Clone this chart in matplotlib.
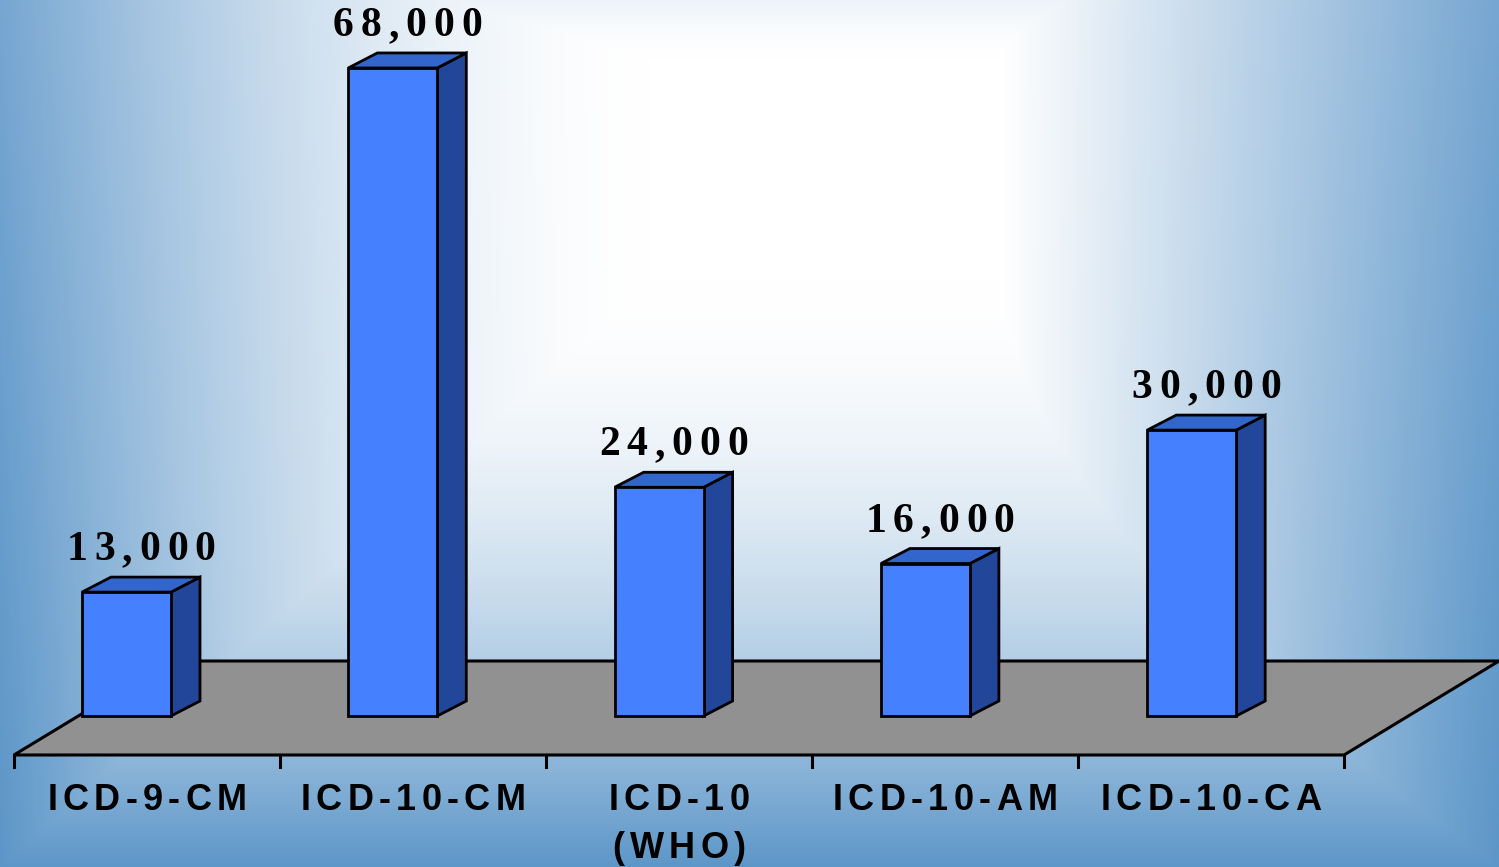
import numpy as np
import matplotlib
matplotlib.use('Agg')
import matplotlib.pyplot as plt
from matplotlib.patches import Polygon
from matplotlib.font_manager import FontProperties
from matplotlib.textpath import TextToPath

# data
categories = ['ICD-9-CM', 'ICD-10-CM', 'ICD-10\n(WHO)', 'ICD-10-AM', 'ICD-10-CA']
codes = [13000, 68000, 24000, 16000, 30000]
value_labels = ['13,000', '68,000', '24,000', '16,000', '30,000']

FRONT = '#4580ff'
TOP = '#3366cc'
SIDE = '#22479a'
FLOOR = '#919191'

BAR_W = 0.334          # category units
DX, DY = 0.109, 1574   # bar depth offset (x units, value units)
FLOOR_FRONT, FLOOR_BACK = -4092, 5771
FLOOR_L, FLOOR_R, FLOOR_DX = -0.4225, 4.572, 0.582

ttp = TextToPath()


def spaced(ax, x, y, s, fp, track, dy_pt=0):
    """draw string char by char with extra tracking (points), centred on x."""
    widths = [ttp.get_text_width_height_descent(c, fp, ismath=False)[0] for c in s]
    total = sum(widths) + track * (len(s) - 1)
    off = -total / 2
    for c, w in zip(s, widths):
        ax.annotate(c, (x, y), xytext=(off, dy_pt), textcoords='offset points',
                    ha='left', va='baseline', fontproperties=fp, color='black', zorder=10)
        off += w + track


def background(ax, xlim, ylim):
    # white plateau in the middle, fading to blue at the edges
    H, W = 867, 1499
    yy, xx = np.mgrid[0:H, 0:W].astype(float)
    x0, x1, y0, y1 = 650.0, 1000.0, 60.0, 280.0
    f_left = (np.maximum(x0 - xx, 0) / x0) ** 1.67
    f_right = np.maximum(xx - x1, 0) / (W - x1)
    f_top = (np.maximum(y0 - yy, 0) / 200.0) ** 1.67
    f_bot = (np.maximum(yy - y1, 0) / (H - y1)) ** 1.67
    t = np.clip(np.maximum.reduce([f_left, f_right, f_top, f_bot]), 0, 1)
    top = np.array([0x76, 0xa6, 0xd1]) / 255
    bot = np.array([0x5c, 0x96, 0xc8]) / 255
    f = (yy / H)[..., None]
    edge = top * (1 - f) + bot * f
    img = (1 - t)[..., None] * np.ones(3) + t[..., None] * edge
    ax.imshow(img, extent=[xlim[0], xlim[1], ylim[0], ylim[1]], origin='upper',
              aspect='auto', zorder=0, interpolation='bilinear')


def main():
    fig = plt.figure(figsize=(14.99, 8.67), dpi=100)
    ax = fig.add_axes([0, 0, 1, 1])
    xlim = (-0.475, 5.154)
    ylim = (-15845, 75131)
    background(ax, xlim, ylim)
    ax.set_xlim(*xlim)
    ax.set_ylim(*ylim)
    ax.axis('off')

    # floor
    floor = [(FLOOR_L, FLOOR_FRONT), (FLOOR_R, FLOOR_FRONT),
             (FLOOR_R + FLOOR_DX, FLOOR_BACK), (FLOOR_L + FLOOR_DX, FLOOR_BACK)]
    ax.add_patch(Polygon(floor, closed=True, facecolor=FLOOR, edgecolor='black',
                         lw=2.2, zorder=1, joinstyle='miter'))
    # ticks
    step = (FLOOR_R - FLOOR_L) / len(categories)
    for k in range(len(categories) + 1):
        xt = FLOOR_L + k * step
        ax.plot([xt, xt], [FLOOR_FRONT, FLOOR_FRONT - 1259], color='black', lw=2.2, zorder=2)

    # bars
    for i, v in enumerate(codes):
        xl, xr = i - BAR_W / 2, i + BAR_W / 2
        kw = dict(closed=True, edgecolor='black', lw=2, zorder=3, joinstyle='miter')
        ax.add_patch(Polygon([(xr, 0), (xr + DX, DY), (xr + DX, v + DY), (xr, v)],
                             facecolor=SIDE, **kw))
        ax.add_patch(Polygon([(xl, v), (xr, v), (xr + DX, v + DY), (xl + DX, v + DY)],
                             facecolor=TOP, **kw))
        ax.add_patch(Polygon([(xl, 0), (xr, 0), (xr, v), (xl, v)], facecolor=FRONT, **kw))

    # value labels
    fp_val = FontProperties(family='Liberation Serif', weight='bold', size=30)
    for i, (v, lab) in enumerate(zip(codes, value_labels)):
        spaced(ax, i + DX / 2, v + DY + 1784, lab, fp_val, 5)

    # category labels
    fp_cat = FontProperties(family='Liberation Sans', weight='bold', size=26)
    for i, cat in enumerate(categories):
        xc = FLOOR_L + (i + 0.5) * step
        for j, line in enumerate(cat.split('\n')):
            spaced(ax, xc, -9864, line, fp_cat, 3.8, dy_pt=-34.6 * j)

    fig.savefig('out.png', dpi=100)


if __name__ == '__main__':
    main()
